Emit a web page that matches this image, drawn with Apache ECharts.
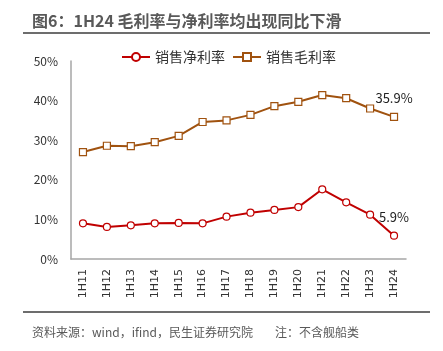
<!DOCTYPE html>
<html>
<head>
<meta charset="utf-8">
<script src="https://cdn.jsdelivr.net/npm/echarts@6/dist/echarts.min.js"></script>
<style>
  html, body { margin: 0; padding: 0; background: #fff; }
  #chart { width: 443px; height: 351px; }
</style>
</head>
<body>
<div id="chart"></div>
<script>
// 数据
var periods = ['1H11', '1H12', '1H13', '1H14', '1H15', '1H16', '1H17', '1H18', '1H19', '1H20', '1H21', '1H22', '1H23', '1H24']
var netMargin = [9.0, 8.1, 8.5, 9.0, 9.1, 9.0, 10.7, 11.7, 12.4, 13.1, 17.6, 14.3, 11.2, 5.9]
var grossMargin = [27.0, 28.6, 28.5, 29.5, 31.1, 34.6, 35.0, 36.4, 38.6, 39.7, 41.4, 40.6, 38.0, 35.9]
var seriesNames = ['销售净利率', '销售毛利率']

var font = '"Microsoft YaHei", "Noto Sans CJK SC", sans-serif'

function lastLabel () {
  return {
    show: true,
    position: 'top',
    distance: 8,
    color: '#222',
    fontSize: 13,
    fontFamily: font,
    formatter: function (p) {
      return p.dataIndex === periods.length - 1 ? p.value.toFixed(1) + '%' : ''
    }
  }
}

var chart = echarts.init(document.getElementById('chart'))
chart.setOption({
  animation: false,
  title: {
    text: '图6：1H24 毛利率与净利率均出现同比下滑',
    left: 32,
    top: 13,
    padding: 0,
    textStyle: {
      fontFamily: font,
      fontSize: 16,
      fontWeight: 'bold',
      color: '#595959'
    }
  },
  graphic: [
    { type: 'line', shape: { x1: 23, y1: 33, x2: 430, y2: 33 }, style: { stroke: '#6d6d6d', lineWidth: 2 } },
    { type: 'line', shape: { x1: 23, y1: 312, x2: 430, y2: 312 }, style: { stroke: '#6d6d6d', lineWidth: 2 } },
    { type: 'text', left: 32, top: 326, style: { text: '资料来源：wind，ifind，民生证券研究院', fontFamily: font, fontSize: 12, fill: '#595959' } },
    { type: 'text', left: 275, top: 326, style: { text: '注：不含舰船类', fontFamily: font, fontSize: 12, fill: '#595959' } }
  ],
  legend: {
    top: 50,
    left: 121,
    padding: 0,
    itemWidth: 28,
    itemHeight: 10,
    itemGap: 7,
    textStyle: { fontFamily: font, fontSize: 14, color: '#333' },
    data: seriesNames
  },
  grid: {
    left: 71,
    right: 37,
    top: 61,
    bottom: 92
  },
  xAxis: {
    type: 'category',
    data: periods,
    axisLine: { lineStyle: { color: '#a6a6a6', width: 1.5 } },
    axisTick: { show: false },
    axisLabel: {
      rotate: 90,
      color: '#333',
      fontSize: 11,
      fontFamily: 'DejaVu Sans, sans-serif',
      margin: 10
    }
  },
  yAxis: {
    type: 'value',
    min: 0,
    max: 50,
    interval: 10,
    axisLine: { show: true, lineStyle: { color: '#a6a6a6', width: 1.5 } },
    axisTick: { show: false },
    splitLine: { show: false },
    axisLabel: {
      formatter: '{value}%',
      color: '#333',
      fontSize: 12,
      fontFamily: font,
      margin: 13
    }
  },
  series: [
    {
      name: seriesNames[0],
      type: 'line',
      data: netMargin,
      symbol: 'circle',
      symbolSize: 7,
      lineStyle: { color: '#c00000', width: 2 },
      itemStyle: { color: '#fff', borderColor: '#c00000', borderWidth: 1.2 },
      label: lastLabel()
    },
    {
      name: seriesNames[1],
      type: 'line',
      data: grossMargin,
      symbol: 'rect',
      symbolSize: 7,
      lineStyle: { color: '#a0520f', width: 2 },
      itemStyle: { color: '#fff', borderColor: '#a0520f', borderWidth: 1.2 },
      label: lastLabel()
    }
  ]
})
</script>
</body>
</html>
